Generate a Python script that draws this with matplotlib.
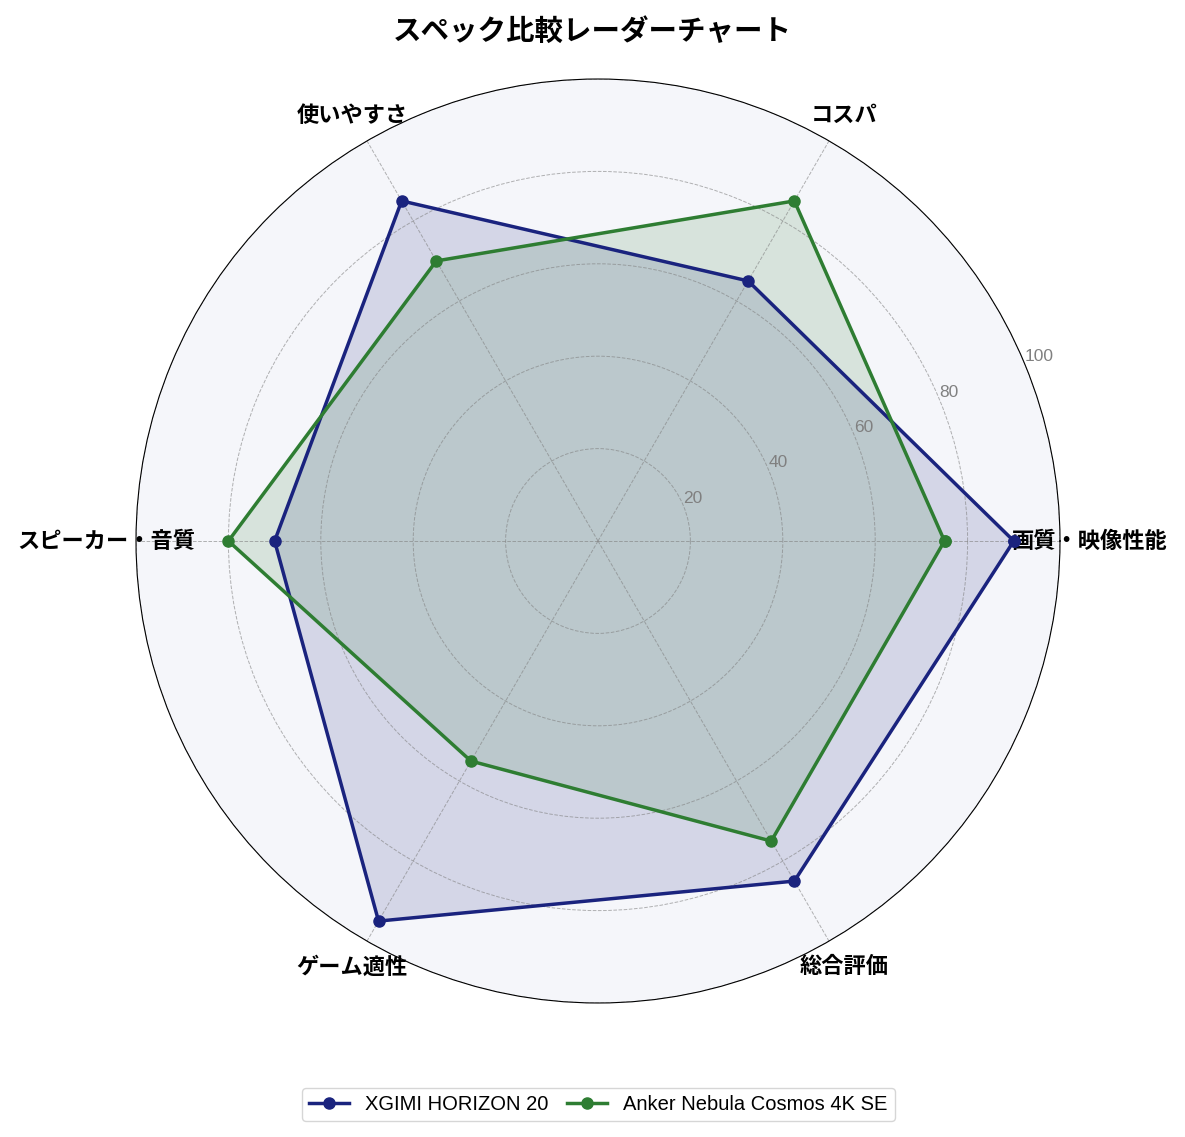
import numpy as np
import matplotlib
matplotlib.use("Agg")
import matplotlib.pyplot as plt

plt.rcParams['font.family'] = ['Noto Sans CJK JP', 'DejaVu Sans']

categories = ['画質・映像性能', 'コスパ', '使いやすさ', 'スピーカー・音質', 'ゲーム適性', '総合評価']
xgimi = [90, 65, 85, 70, 95, 85]
anker = [75, 85, 70, 80, 55, 75]
series_names = ['XGIMI HORIZON 20', 'Anker Nebula Cosmos 4K SE']
colors = ['#1a237e', '#2e7d32']
r_ticks = [20, 40, 60, 80, 100]

n = len(categories)
angles = np.linspace(0, 2 * np.pi, n, endpoint=False).tolist()
angles += angles[:1]

fig = plt.figure(figsize=(11.85, 11.37), dpi=100)
ax = fig.add_axes([136 / 1185, 134 / 1137, 924 / 1185, 924 / 1137], projection='polar')
ax.set_facecolor('#f5f6fa')

for vals, name, c in zip([xgimi, anker], series_names, colors):
    v = vals + vals[:1]
    ax.plot(angles, v, color=c, linewidth=2.5, marker='o', markersize=8, label=name)
    ax.fill(angles, v, color=c, alpha=0.15)

ax.set_xticks(angles[:-1])
ax.set_xticklabels(categories, fontsize=16, fontweight='bold')
ax.tick_params(axis='x', pad=11)
ax.set_ylim(0, 100)
ax.set_yticks(r_ticks)
ax.set_yticklabels([str(t) for t in r_ticks], fontsize=12.5, color='gray',
                   family=['Liberation Sans', 'DejaVu Sans'])
ax.set_rlabel_position(22.5)
ax.grid(True, linestyle='--', color='gray', alpha=0.6, linewidth=0.7)
ax.spines['polar'].set_color('black')

fig.suptitle('スペック比較レーダーチャート', fontsize=20.5, fontweight='bold', y=0.984)
fig.legend(loc='lower center', bbox_to_anchor=(0.505, 0.005), ncol=2, columnspacing=0.9,
           borderpad=0.35, prop={'family': ['Liberation Sans', 'DejaVu Sans'], 'size': 14.5})

fig.savefig('out.png', dpi=100)
